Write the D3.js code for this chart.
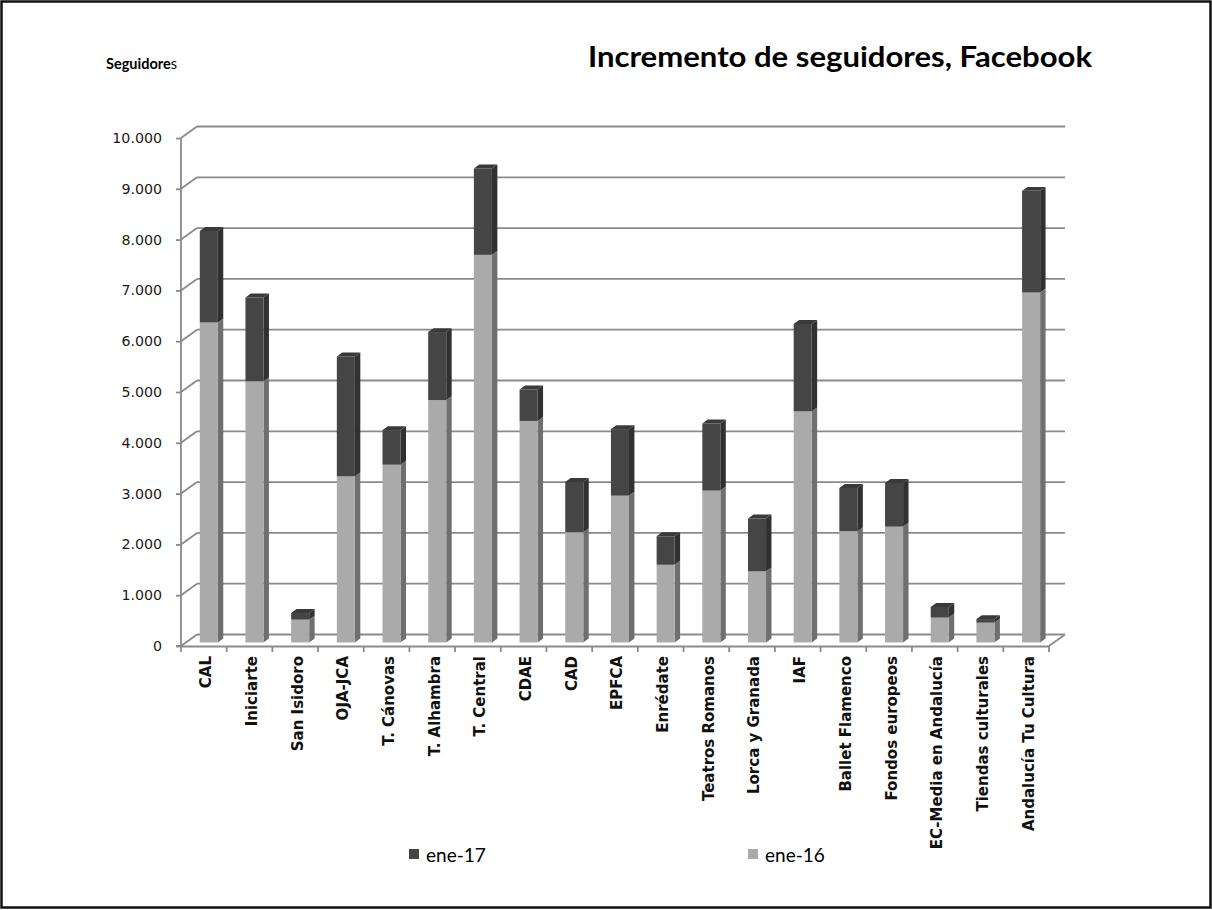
<!DOCTYPE html>
<html>
<head>
<meta charset="utf-8">
<script src="https://cdn.jsdelivr.net/npm/d3@7"></script>
<style>
  html, body { margin: 0; padding: 0; background: #fff; }
  svg { display: block; }
</style>
</head>
<body>
<svg id="chart" width="1212" height="910"></svg>
<script>
const categories = ["CAL", "Iniciarte", "San Isidoro", "OJA-JCA", "T. Cánovas", "T. Alhambra", "T. Central", "CDAE", "CAD", "EPFCA", "Enrédate", "Teatros Romanos", "Lorca y Granada", "IAF", "Ballet Flamenco", "Fondos europeos", "EC-Media en Andalucía", "Tiendas culturales", "Andalucía Tu Cultura"];
const ene16 = [6300, 5140, 450, 3270, 3500, 4770, 7630, 4360, 2170, 2890, 1530, 2990, 1400, 4550, 2190, 2280, 490, 390, 6890];
const ene17 = [8100, 6790, 580, 5630, 4180, 6110, 9330, 4980, 3160, 4200, 2090, 4310, 2440, 6270, 3040, 3140, 700, 460, 8890];
const yTicks = [0, 1000, 2000, 3000, 4000, 5000, 6000, 7000, 8000, 9000, 10000];
const seriesNames = ["ene-17", "ene-16"];
const titleText = "Incremento de seguidores, Facebook";
const yAxisTitle = "Seguidore";

const svg = d3.select("#chart");
const W = 1212, H = 910;

// border
svg.append("rect").attr("x", 1.5).attr("y", 1.5).attr("width", W - 3).attr("height", H - 4)
  .attr("fill", "#fff").attr("stroke", "#111").attr("stroke-width", 2.5);

const X0 = 181, X1 = 1049, Y0 = 646, YT = 138;
const DX = 16, DY = -11.5;          // depth of the plot box
const fB = 0.31, dB = 0.34;          // bar position/depth within box
const gridColor = "#8a8a8a";

const x = d3.scaleBand().domain(categories).range([X0, X1]).padding(0);
const y = d3.scaleLinear().domain([0, 10000]).range([Y0, YT]);
const locale = d3.formatLocale({ decimal: ",", thousands: ".", grouping: [3], currency: ["", "€"] });
const fmt = locale.format(",d");

// back wall gridlines + left wall diagonals
const grid = svg.append("g").attr("stroke", gridColor).attr("stroke-width", 1.8).attr("fill", "none");
yTicks.forEach(v => {
  grid.append("line").attr("x1", X0 + DX).attr("x2", X1 + DX).attr("y1", y(v) + DY).attr("y2", y(v) + DY);
  grid.append("line").attr("x1", X0).attr("x2", X0 + DX).attr("y1", y(v)).attr("y2", y(v) + DY);
});
// floor
grid.append("line").attr("x1", X1).attr("x2", X1 + DX).attr("y1", Y0).attr("y2", Y0 + DY);

// y axis
const yAxis = d3.axisLeft(y).tickValues(yTicks).tickFormat(fmt).tickSize(5).tickPadding(14);
const gy = svg.append("g").attr("transform", `translate(${X0},0)`).call(yAxis);
gy.select(".domain").attr("stroke", gridColor).attr("stroke-width", 1.8).attr("d", `M-5,${Y0}H0V${YT}`);
gy.selectAll(".tick line").attr("stroke", gridColor).attr("stroke-width", 1.8);
gy.selectAll(".tick text").attr("font-family", "'DejaVu Sans', Verdana, sans-serif").attr("font-size", 14.2).attr("fill", "#1a1a1a");

// x axis
const xAxis = d3.axisBottom(x).tickSize(0).tickPadding(0);
const gx = svg.append("g").attr("transform", `translate(0,${Y0})`).call(xAxis);
gx.select(".domain").attr("stroke", gridColor).attr("stroke-width", 1.8);
gx.selectAll(".tick text")
  .attr("font-family", "'DejaVu Sans', Verdana, sans-serif").attr("font-size", 15).attr("font-weight", "bold")
  .attr("fill", "#111").attr("text-anchor", "end")
  .attr("transform", "translate(2,10) rotate(-90)").attr("x", 0).attr("y", 0).attr("dy", "0.36em");
// boundary ticks
const bounds = categories.map(c => x(c)).concat([X1]);
svg.append("g").selectAll("line").data(bounds).join("line")
  .attr("x1", d => d).attr("x2", d => d).attr("y1", Y0).attr("y2", Y0 + 6)
  .attr("stroke", gridColor).attr("stroke-width", 1.8);

// bars
const bw = x.bandwidth() * 0.395;
const sdx = DX * dB, sdy = DY * dB;
const offX = DX * fB, offY = DY * fB;
const colors = {
  light: { front: "#aaaaaa", side: "#6f6f6f", top: "#c4c4c4" },
  dark: { front: "#454545", side: "#313131", top: "#3a3a3a" }
};
const barsG = svg.append("g");
categories.forEach((c, i) => {
  const cx = x(c) + x.bandwidth() / 2 + offX;
  const left = cx - bw / 2, right = cx + bw / 2;
  const segs = [
    { lo: 0, hi: ene16[i], col: colors.light },
    { lo: ene16[i], hi: ene17[i], col: colors.dark }
  ];
  segs.forEach(s => {
    const yb = y(s.lo) + offY, yt = y(s.hi) + offY;
    const g = barsG.append("g");
    g.append("path").attr("fill", s.col.side)
      .attr("d", `M${right},${yb}L${right + sdx},${yb + sdy}L${right + sdx},${yt + sdy}L${right},${yt}Z`);
    g.append("path").attr("fill", s.col.top)
      .attr("d", `M${left},${yt}L${left + sdx},${yt + sdy}L${right + sdx},${yt + sdy}L${right},${yt}Z`);
    g.append("rect").attr("x", left).attr("y", yt).attr("width", bw).attr("height", yb - yt).attr("fill", s.col.front);
  });
});

// titles
svg.append("text").attr("x", 1092).attr("y", 67).attr("text-anchor", "end")
  .attr("font-family", "Lato, 'Open Sans', sans-serif").attr("font-weight", "bold").attr("font-size", 29)
  .attr("textLength", 504).attr("lengthAdjust", "spacingAndGlyphs")
  .attr("fill", "#000").text(titleText);
const yt = svg.append("text").attr("x", 106).attr("y", 69)
  .attr("font-family", "Lato, 'Open Sans', sans-serif").attr("font-size", 14.5).attr("fill", "#000");
yt.append("tspan").attr("font-weight", "bold").text(yAxisTitle);
yt.append("tspan").text("s");

// legend
const legendX = [409, 748];
const legendColors = [colors.dark.front, colors.light.front];
const lg = svg.append("g");
seriesNames.forEach((n, i) => {
  lg.append("rect").attr("x", legendX[i]).attr("y", 849).attr("width", 10).attr("height", 10).attr("fill", legendColors[i]);
  lg.append("text").attr("x", legendX[i] + 17).attr("y", 862)
    .attr("font-family", "Lato, 'Open Sans', sans-serif").attr("font-size", 19).attr("fill", "#000").text(n);
});
</script>
</body>
</html>
